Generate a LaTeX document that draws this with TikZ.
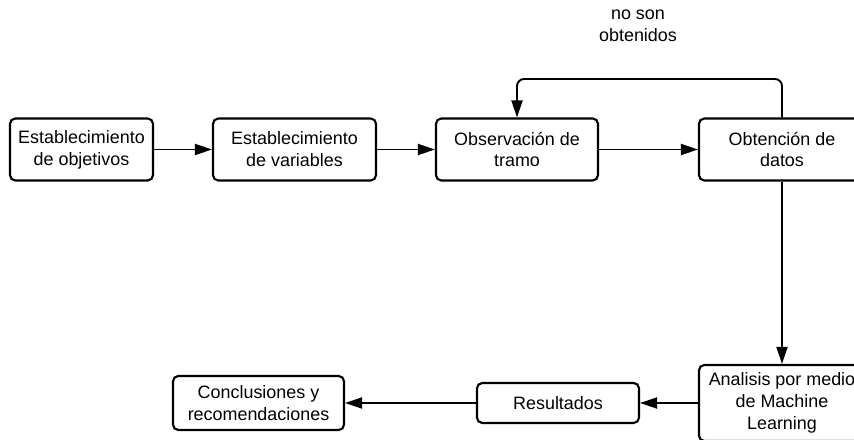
\documentclass[tikz,border=0pt]{standalone}
\usepackage{fontspec}
\setmainfont{Liberation Sans}
\usetikzlibrary{arrows.meta}

\tikzset{
    caja/.style={draw, line width=1.2pt, rounded corners=3pt, align=center,
                 font=\fontsize{10.2}{12.5}\selectfont, inner sep=1pt},
    flecha/.style={-{Triangle[length=0.34cm, width=0.22cm]}, line width=1.1pt}
}

\begin{document}
\begin{tikzpicture}
% 1. 画布大小
\useasboundingbox (0, 0) rectangle (17.08, 8.8);
\clip (0, 0) rectangle (17.08, 8.8);

% 2. 上面一行
\node[caja, minimum width=2.86cm, minimum height=1.24cm] (objetivos) at (1.63, 5.81) {Establecimiento\\de objetivos};
\node[caja, minimum width=3.26cm, minimum height=1.24cm] (variables) at (5.89, 5.81) {Establecimiento\\de variables};
\node[caja, minimum width=3.24cm, minimum height=1.24cm] (tramo) at (10.34, 5.81) {Observación de\\tramo};
\node[caja, minimum width=3.32cm, minimum height=1.24cm] (datos) at (15.64, 5.81) {Obtención de\\datos};

% 3. 下面一行
\node[caja, minimum width=3.32cm, minimum height=1.52cm] (analisis) at (15.64, 0.74) {Analisis por medio\\de Machine\\Learning};
\node[caja, minimum width=3.24cm, minimum height=0.80cm] (resultados) at (11.16, 0.74) {Resultados};
\node[caja, minimum width=3.42cm, minimum height=1.08cm] (conclusiones) at (5.17, 0.74) {Conclusiones y\\recomendaciones};

% 4. 箭头
\draw[flecha] (objetivos) -- (variables);
\draw[flecha] (variables) -- (tramo);
\draw[flecha] (tramo) -- (datos);
\draw[flecha] (datos) -- (analisis);
\draw[flecha] (analisis) -- (resultados);
\draw[flecha] (resultados) -- (conclusiones);

% 5. 返回的线
\coordinate (retorno) at (15.64, 7.22);
\draw[flecha, rounded corners=4pt] (datos.north) -- (retorno) -| (tramo.north);
\node[align=center, font=\fontsize{10.2}{12.5}\selectfont] (nota) at (12.76, 8.28) {no son\\obtenidos};
\end{tikzpicture}
\end{document}
